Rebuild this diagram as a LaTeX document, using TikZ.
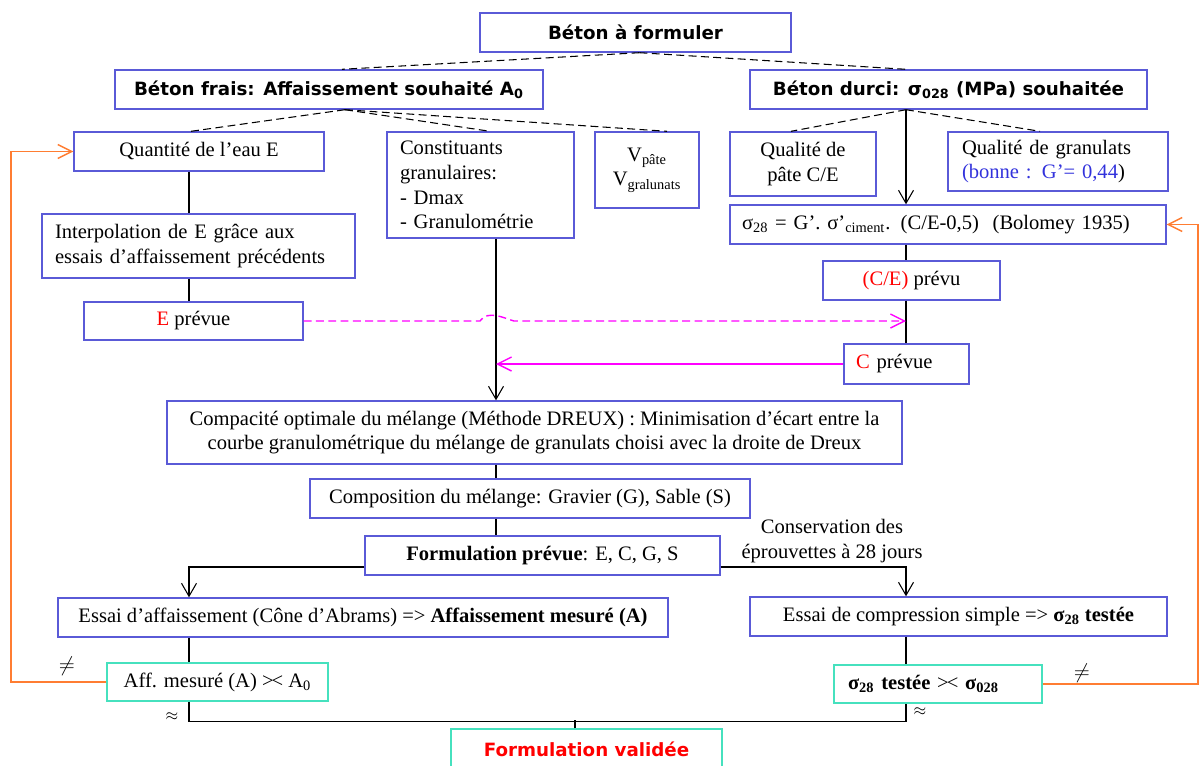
\documentclass[tikz,border=0pt]{standalone}
\usepackage{fontspec}
\setmainfont{Liberation Serif}
\newfontfamily\titrefont{DejaVu Sans}
\usepackage{xcolor}
\usetikzlibrary{arrows.meta,calc}

\definecolor{cadre}{RGB}{90,90,215}
\definecolor{cadrevert}{RGB}{70,225,190}
\definecolor{retour}{RGB}{255,125,50}
\definecolor{rose}{RGB}{255,0,255}
\definecolor{bleu}{RGB}{50,50,220}

\newcommand{\corps}{\fontsize{11.7}{14}\selectfont}
\newcommand{\gras}{\titrefont\bfseries\fontsize{10.4}{12.5}\selectfont}
\newcommand{\croise}{>\kern-0.1em<}

\tikzset{
  boite/.style={draw=cadre, line width=0.8pt, inner sep=0pt, minimum height=0.78cm, align=center, font=\corps},
  boiteg/.style={boite, align=left, inner xsep=0.26cm},
  verif/.style={boite, draw=cadrevert},
  entete/.style={boite, font=\gras},
  lien/.style={line width=0.6pt},
  fleche/.style={lien, -{Straight Barb[length=2.6mm,width=3mm]}},
  pointille/.style={lien, dash pattern=on 4.5pt off 2.5pt},
  boucle/.style={line width=0.8pt, draw=retour, -{Straight Barb[length=2.8mm,width=2.8mm]}},
  renvoi/.style={line width=0.8pt, draw=rose, -{Straight Barb[length=2.8mm,width=2.8mm]}},
}

\begin{document}
\begin{tikzpicture}[x=0.02cm,y=-0.02cm]
  \useasboundingbox (0,0) rectangle (1201,765);
  % columns of the vertical links
  \coordinate (colA) at (189,0);
  \coordinate (colB) at (496,0);
  \coordinate (colC) at (906,0);
  \coordinate (gauche) at (11,0);
  \coordinate (droite) at (1198,0);

  % headings
  \node[entete, minimum width=6.22cm] (formuler) at (635.5,32.5) {Béton à formuler};
  \node[entete, minimum width=8.56cm] (frais) at (329,89.5) {Béton frais: Affaissement souhaité A\textsubscript{0}};
  \node[entete, minimum width=7.94cm] (durci) at (948.5,89.5) {Béton durci: σ\textsubscript{028} (MPa) souhaitée};

  % fresh concrete
  \node[boite, minimum width=5cm] (eau) at (199,151.5) {Quantité de l’eau E};
  \node[boiteg, text width=3.22cm, minimum width=3.74cm, minimum height=2.12cm] (granul) at (480.5,185) {Constituants\\granulaires:\\- Dmax\\- Granulométrie};
  \node[boite, minimum width=2.08cm, minimum height=1.52cm] (volumes) at (647,170) {V\textsubscript{pâte}\\V\textsubscript{gralunats}};
  \node[boiteg, text width=5.74cm, minimum width=6.26cm, minimum height=1.28cm] (interp) at (198.5,246) {Interpolation de E grâce aux\\essais d’affaissement précédents};
  \node[boite, minimum width=4.38cm, minimum height=0.76cm] (eprevue) at (193.5,321) {\textcolor{red}{E} prévue};

  % hardened concrete
  \node[boite, minimum width=2.92cm, minimum height=1.28cm] (qpate) at (803,164) {Qualité de\\pâte C/E};
  \node[boiteg, inner xsep=0.28cm, text width=3.84cm, minimum width=4.4cm, minimum height=1.18cm] (qgran) at (1058,161.5) {Qualité de granulats\\\textcolor{bleu}{(bonne : G’= 0,44})};
  \node[boiteg, inner xsep=0.24cm, text width=8.24cm, minimum width=8.72cm] (bolomey) at (948,224.5) {σ\textsubscript{28} = G’. σ'\textsubscript{ciment}. (C/E-0,5)\ \ (Bolomey 1935)};
  \node[boite, minimum width=3.54cm] (cesurE) at (911.5,280.5) {\textcolor{red}{(C/E)} prévu};
  \node[boiteg, inner xsep=0.24cm, text width=2.02cm, minimum width=2.5cm, minimum height=0.8cm] (cprevue) at (906.5,364) {\textcolor{red}{C} prévue};

  % mix design
  \node[boite, minimum width=14.7cm, minimum height=1.26cm] (compacite) at (534.5,432.5) {Compacité optimale du mélange (Méthode DREUX) : Minimisation d’écart entre la\\courbe granulométrique du mélange de granulats choisi avec la droite de Dreux};
  \node[boite, minimum width=8.8cm] (compo) at (530,498.5) {Composition du mélange: Gravier (G), Sable (S)};
  \node[boite, minimum width=7.1cm] (prevue) at (542.5,555.5) {\textbf{Formulation prévue}: E, C, G, S};
  \node[font=\corps, align=center] (conserv) at (832,541) {Conservation des\\éprouvettes à 28 jours};

  % tests
  \node[boite, minimum width=12.2cm] (affaiss) at (363,617.5) {Essai d’affaissement (Cône d’Abrams) => \textbf{Affaissement mesuré (A)}};
  \node[boite, minimum width=8.34cm] (compress) at (958.5,616.5) {Essai de compression simple => \textbf{σ\textsubscript{28} testée}};
  \node[verif, minimum width=4.42cm, minimum height=0.76cm] (compA) at (217.5,682) {Aff. mesuré (A) \croise{} A\textsubscript{0}};
  \node[verif, align=left, inner xsep=0.28cm, text width=3.6cm, minimum width=4.16cm, minimum height=0.76cm] (compS) at (938,684) {\textbf{σ\textsubscript{28} testée} \croise{} \textbf{σ\textsubscript{028}}};
  \node[verif, font=\gras, text=red, minimum width=5.42cm, minimum height=0.8cm] (valide) at (586.5,749) {Formulation validée};

  \node[font=\corps] (diffA) at (67,666) {$\neq$};
  \node[font=\small] (egalA) at (172,717) {$\approx$};
  \node[font=\corps] (diffS) at (1082,673) {$\neq$};
  \node[font=\small] (egalS) at (920,712) {$\approx$};

  % dashed breakdown
  \draw[pointille] ($(formuler.south)+(4,0)$) -- ($(frais.north)+(13,0)$);
  \draw[pointille] ($(formuler.south)+(4,0)$) -- (colC |- durci.north);
  \foreach \cible/\dx in {eau/-8, granul/9.5, volumes/20}
    \draw[pointille] ($(frais.south)+(16,0)$) -- ($(\cible.north)+(\dx,0)$);
  \foreach \cible/\dx in {qpate/-12, qgran/-18}
    \draw[pointille] (colC |- durci.south) -- ($(\cible.north)+(\dx,0)$);

  % vertical links
  \draw[fleche] (colC |- durci.south) -- (colC |- bolomey.north);
  \draw[lien] (colC |- bolomey.south) -- (colC |- cesurE.north);
  \draw[lien] (colC |- cesurE.south) -- (colC |- cprevue.north);
  \draw[lien] (colA |- eau.south) -- (colA |- interp.north);
  \draw[lien] (colA |- interp.south) -- (colA |- eprevue.north);
  \draw[fleche] (colB |- granul.south) -- (colB |- compacite.north);
  \draw[lien] (colB |- compacite.south) -- (colB |- compo.north);
  \draw[lien] (colB |- compo.south) -- (colB |- prevue.north);

  % predicted mix to both tests
  \draw[fleche] ($(prevue.west)+(0,11.5)$) -| (colA |- affaiss.north);
  \draw[fleche] ($(prevue.east)+(0,11.5)$) -| (colC |- compress.north);
  \draw[lien] (colA |- affaiss.south) -- (colA |- compA.north);
  \draw[lien] (colC |- compress.south) -- (colC |- compS.north);

  % both checks passed
  \draw[lien] (colA |- compA.south) -- ++(0,20) -| (colC |- compS.south);
  \draw[lien] ($(valide.north)+(-11.5,0)$) -- ++(0,-8);

  % loops back when a check fails
  \draw[boucle] (compA.west) -- (compA.west -| gauche) |- (eau.west);
  \draw[boucle] (compS.east) -- (compS.east -| droite) |- (bolomey.east);

  % E and C carried across
  \draw[renvoi, dash pattern=on 4.5pt off 2.5pt] (eprevue.east) -- ($(colB |- eprevue.east)+(-16,0)$)
    .. controls +(8,-12) and +(-8,-2) .. ($(colB |- eprevue.east)+(18,0)$) -- (colC |- eprevue.east);
  \draw[renvoi] (cprevue.west) -- (colB |- cprevue.west);
\end{tikzpicture}
\end{document}
